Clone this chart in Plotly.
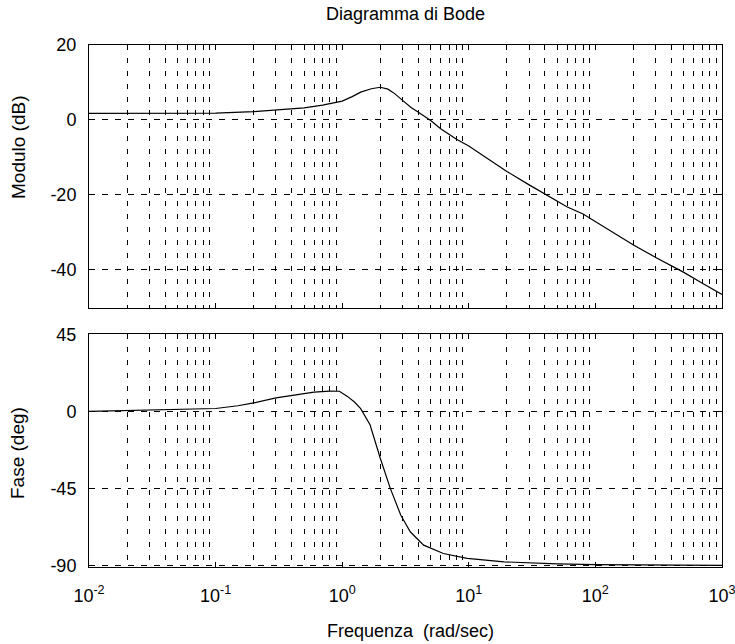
import plotly.graph_objects as go
from plotly.subplots import make_subplots

# ---- data ----
mag_freq = [0.01, 0.05, 0.1, 0.2, 0.3, 0.4, 0.5, 0.7, 1.0, 1.2, 1.4, 1.7, 2.0, 2.3, 2.6,
            3.0, 3.5, 4.0, 5.0, 6.0, 7.0, 8.0, 10, 12, 15, 20, 30, 40, 60, 80, 100,
            200, 300, 500, 700, 1000]
mag_db = [1.7, 1.7, 1.8, 2.2, 2.6, 2.9, 3.2, 3.9, 5.0, 6.2, 7.4, 8.3, 8.7, 8.2, 7.0,
          5.2, 3.3, 2.0, -0.2, -2.4, -4.0, -5.2, -7.0, -8.8, -11.2, -13.8, -17.4, -19.8,
          -23.3, -25.2, -27.2, -33.5, -36.8, -40.8, -43.7, -46.7]

phase_freq = [0.01, 0.02, 0.05, 0.1, 0.15, 0.2, 0.3, 0.4, 0.5, 0.6, 0.8, 0.95, 1.1, 1.25,
              1.4, 1.66, 2.0, 2.4, 2.9, 3.45, 4.4, 6.3, 9.7, 19, 50, 100, 1000]
phase_deg = [0, 0.4, 0.9, 1.7, 3.3, 5.0, 7.9, 9.3, 10.3, 11.3, 11.9, 11.8, 8.8, 5.5,
             1.6, -7.8, -27.4, -45, -60.6, -70.4, -78.2, -83.1, -86, -88, -89.2, -89.6, -90]

x_major = [0.01, 0.1, 1, 10, 100, 1000]
x_major_text = ["10<sup>-2</sup>", "10<sup>-1</sup>", "10<sup>0</sup>",
                "10<sup>1</sup>", "10<sup>2</sup>", "10<sup>3</sup>"]
x_minor = [m * d for d in [0.01, 0.1, 1, 10, 100] for m in range(2, 10)]
mag_ticks = [-40, -20, 0, 20]
mag_tick_text = ["-40", "-20", "0", "20"]
phase_ticks = [-90, -45, 0, 45]
phase_tick_text = ["-90", "-45", "0", "45"]

FONT = "Liberation Sans, Arial, sans-serif"

fig = make_subplots(rows=2, cols=1, shared_xaxes=False, vertical_spacing=0.05)
fig.add_trace(go.Scatter(x=mag_freq, y=mag_db, mode="lines",
                         line=dict(color="black", width=1.2), showlegend=False), row=1, col=1)
fig.add_trace(go.Scatter(x=phase_freq, y=phase_deg, mode="lines",
                         line=dict(color="black", width=1.2), showlegend=False), row=2, col=1)

xcommon = dict(type="log", range=[-2, 3.0005], showline=True, linecolor="black", linewidth=1,
               mirror="ticks", ticks="inside", ticklen=5, tickcolor="black",
               tickmode="array", tickvals=x_major, showgrid=False, zeroline=False,
               automargin=False,
               tickfont=dict(family=FONT, size=18, color="black"),
               minor=dict(tickmode="array", tickvals=x_minor, showgrid=True,
                          griddash="5px,8px", gridcolor="black", gridwidth=1, ticks=""))
fig.update_xaxes(**xcommon)
fig.update_xaxes(showticklabels=False, row=1, col=1)
fig.update_xaxes(ticktext=x_major_text, ticklabelstandoff=12, ticklabeloverflow="allow",
                 row=2, col=1)

ycommon = dict(showline=True, linecolor="black", linewidth=1, mirror="ticks",
               ticks="inside", ticklen=5, tickcolor="black", zeroline=False,
               showgrid=True, gridcolor="black", griddash="6px,7px", gridwidth=1,
               tickmode="array", ticklabelstandoff=8, automargin=False,
               tickfont=dict(family=FONT, size=18, color="black"))
fig.update_yaxes(**ycommon)
fig.update_yaxes(range=[-50.4, 20], tickvals=mag_ticks, ticktext=mag_tick_text,
                 domain=[0.4956, 1.0], row=1, col=1)
fig.update_yaxes(range=[-91, 45.3], tickvals=phase_ticks, ticktext=phase_tick_text,
                 domain=[0.0, 0.4464], row=2, col=1)

L, R, T, B = 89, 13, 45, 77
W, H = 735, 644
pw, ph = W - L - R, H - T - B

def px(x):
    return (x - L) / pw

def py(y):
    return (H - B - y) / ph

annotations = [
    dict(text="Diagramma di Bode", x=px(405), y=py(14), xref="paper", yref="paper",
         showarrow=False, xanchor="center", yanchor="middle",
         font=dict(family=FONT, size=18, color="black")),
    dict(text="Modulo (dB)", x=px(18), y=py(147), xref="paper", yref="paper",
         showarrow=False, textangle=-90, xanchor="center", yanchor="middle",
         font=dict(family=FONT, size=19, color="black")),
    dict(text="Fase (deg)", x=px(18), y=py(453), xref="paper", yref="paper",
         showarrow=False, textangle=-90, xanchor="center", yanchor="middle",
         font=dict(family=FONT, size=19, color="black")),
    dict(text="Frequenza  (rad/sec)", x=px(410), y=py(631), xref="paper", yref="paper",
         showarrow=False, xanchor="center", yanchor="middle",
         font=dict(family=FONT, size=18, color="black")),
]

fig.update_layout(width=W, height=H, margin=dict(l=L, r=R, t=T, b=B, autoexpand=False),
                  paper_bgcolor="white", plot_bgcolor="white",
                  annotations=annotations, showlegend=False)

fig.write_html("out.html")
